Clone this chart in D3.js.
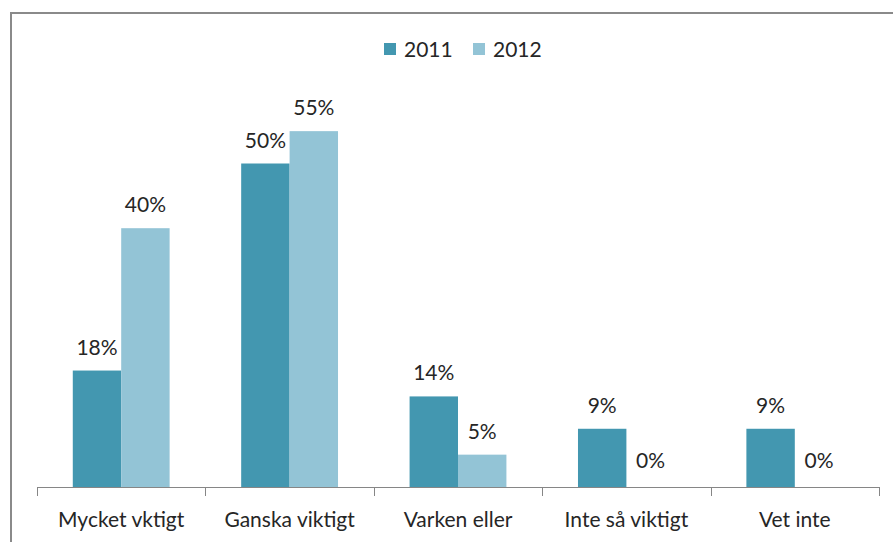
<!DOCTYPE html>
<html>
<head>
<meta charset="utf-8">
<script src="https://cdn.jsdelivr.net/npm/d3@7"></script>
<style>
  html, body { margin: 0; padding: 0; background: #fff; }
  svg { display: block; font-family: Lato, "Open Sans", sans-serif; }
</style>
</head>
<body>
<div id="chart"></div>
<script>
// Chart data
const categories = ['Mycket vktigt', 'Ganska viktigt', 'Varken eller', 'Inte så viktigt', 'Vet inte'];
const seriesNames = ['2011', '2012'];
const values2011 = [0.18, 0.50, 0.14, 0.09, 0.09];
const values2012 = [0.40, 0.55, 0.05, 0.00, 0.00];
const seriesColors = ['#4397b0', '#93c4d6'];

const W = 893, H = 542;
const axisY = 487;

const svg = d3.select('#chart')
    .append('svg')
    .attr('width', W)
    .attr('height', H);

// Outer frame (only top and left edges visible in the crop)
svg.append('rect')
    .attr('x', 11)
    .attr('y', 13)
    .attr('width', W + 20)
    .attr('height', H + 20)
    .attr('fill', 'none')
    .attr('stroke', '#8a8a8a')
    .attr('stroke-width', 2);

// Scales
const x0 = d3.scaleBand()
    .domain(categories)
    .range([37, 879])
    .paddingInner(0)
    .paddingOuter(0);

const groupPad = 0.2125; // fraction of band left empty on each side
const x1 = d3.scaleBand()
    .domain(seriesNames)
    .range([x0.bandwidth() * groupPad, x0.bandwidth() * (1 - groupPad)]);

const y = d3.scaleLinear()
    .domain([0, 0.6])
    .range([axisY, axisY - 0.6 * 647]);

const rows = categories.map((c, i) => ({
    category: c,
    values: [values2011[i], values2012[i]]
}));

// Bars
const groups = svg.selectAll('g.group')
    .data(rows)
    .enter()
    .append('g')
    .attr('class', 'group')
    .attr('transform', d => `translate(${x0(d.category)},0)`);

groups.selectAll('rect')
    .data(d => d.values.map((v, j) => ({ series: seriesNames[j], value: v, idx: j })))
    .enter()
    .append('rect')
    .attr('x', d => x1(d.series))
    .attr('y', d => y(d.value))
    .attr('width', x1.bandwidth())
    .attr('height', d => axisY - y(d.value))
    .attr('fill', d => seriesColors[d.idx]);

// Value labels
groups.selectAll('text')
    .data(d => d.values.map((v, j) => ({ series: seriesNames[j], value: v })))
    .enter()
    .append('text')
    .attr('x', d => x1(d.series) + x1.bandwidth() / 2)
    .attr('y', d => y(d.value) - (d.value === 0 ? 19 : 16))
    .attr('text-anchor', 'middle')
    .style('font-size', '21px')
    .style('fill', '#262626')
    .text(d => d3.format('.0%')(d.value));

// X axis
const xAxis = svg.append('g')
    .attr('transform', `translate(0,${axisY})`)
    .call(d3.axisBottom(x0).tickSize(0));

xAxis.select('.domain')
    .attr('stroke', '#868686')
    .attr('d', `M37.5,0.5H879.5`);

xAxis.selectAll('text')
    .attr('y', 40)
    .attr('dy', 0)
    .style('font-size', '21px')
    .style('font-family', 'Lato, "Open Sans", sans-serif')
    .style('fill', '#262626');

// Tick marks at category boundaries
const boundaries = categories.map(c => x0(c)).concat([x0.range()[1]]);
svg.append('g')
    .selectAll('line')
    .data(boundaries)
    .enter()
    .append('line')
    .attr('x1', d => Math.round(d) + 0.5)
    .attr('x2', d => Math.round(d) + 0.5)
    .attr('y1', axisY)
    .attr('y2', axisY + 9)
    .attr('stroke', '#868686');

// Legend
const legend = svg.append('g')
    .attr('transform', 'translate(384,43)');

const legendOffsets = [0, 89];
seriesNames.forEach((name, i) => {
    const item = legend.append('g')
        .attr('transform', `translate(${legendOffsets[i]},0)`);
    item.append('rect')
        .attr('width', 12)
        .attr('height', 12)
        .attr('fill', seriesColors[i]);
    item.append('text')
        .attr('x', 20)
        .attr('y', 14)
        .style('font-size', '21px')
        .style('fill', '#262626')
        .text(name);
});
</script>
</body>
</html>
